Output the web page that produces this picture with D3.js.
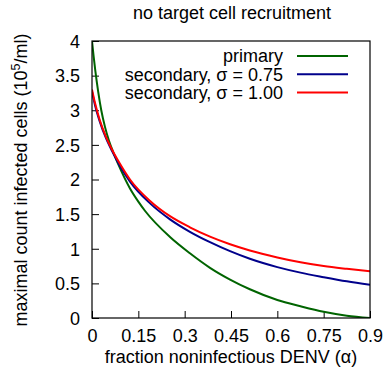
<!DOCTYPE html>
<html>
<head>
<meta charset="utf-8">
<script src="https://cdn.jsdelivr.net/npm/d3@7"></script>
<style>
  html, body { margin: 0; padding: 0; background: #fff; }
  svg { display: block; font-family: "Liberation Sans", Arial, sans-serif; }
</style>
</head>
<body>
<svg id="chart" width="386" height="373"></svg>
<script>
// fraction of noninfectious virus (alpha) at which each curve is sampled
const alphaPrimary = [0, 0.005, 0.011, 0.02, 0.03, 0.042, 0.055, 0.07, 0.095, 0.123, 0.15, 0.172, 0.2525, 0.317, 0.382, 0.447, 0.511, 0.6, 0.675, 0.75, 0.825, 0.9];
const primary      = [4.0, 3.79, 3.56, 3.27, 3.00, 2.76, 2.56, 2.38, 2.12, 1.87, 1.68, 1.545, 1.17, 0.935, 0.725, 0.555, 0.415, 0.26, 0.17, 0.09, 0.033, 0.0];

const alphaSecondary = [0, 0.01, 0.025, 0.045, 0.065, 0.09, 0.123, 0.188, 0.2525, 0.317, 0.382, 0.447, 0.511, 0.6, 0.675, 0.75, 0.825, 0.9];
const secondary075   = [3.27, 3.07, 2.84, 2.60, 2.41, 2.20, 1.97, 1.655, 1.425, 1.245, 1.095, 0.965, 0.855, 0.735, 0.655, 0.59, 0.53, 0.48];
const secondary100   = [3.30, 3.10, 2.86, 2.62, 2.43, 2.23, 2.00, 1.69, 1.47, 1.31, 1.175, 1.065, 0.975, 0.875, 0.805, 0.75, 0.71, 0.675];

const xTicks = [0, 0.15, 0.3, 0.45, 0.6, 0.75, 0.9];
const yTicks = [0, 0.5, 1, 1.5, 2, 2.5, 3, 3.5, 4];

const seriesNames = ["primary", "secondary, \u03c3 = 0.75", "secondary, \u03c3 = 1.00"];
const seriesColors = ["#006400", "#00008b", "#ff0000"];

const series = [
  { name: seriesNames[0], color: seriesColors[0], xs: alphaPrimary, ys: primary },
  { name: seriesNames[1], color: seriesColors[1], xs: alphaSecondary, ys: secondary075 },
  { name: seriesNames[2], color: seriesColors[2], xs: alphaSecondary, ys: secondary100 }
];

const FONT = 18;
const margin = { left: 92, right: 16, top: 41, bottom: 55 };
const W = 386, H = 373;
const svg = d3.select("#chart");

const x = d3.scaleLinear().domain([0, 0.9]).range([margin.left, W - margin.right]);
const y = d3.scaleLinear().domain([0, 4]).range([H - margin.bottom, margin.top]);

svg.append("defs").append("clipPath").attr("id", "plotClip")
  .append("rect")
  .attr("x", x(0)).attr("y", y(4))
  .attr("width", x(0.9) - x(0)).attr("height", y(0) - y(4));

// axes with inward ticks
const xAxis = d3.axisBottom(x).tickValues(xTicks).tickSizeInner(-7).tickSizeOuter(0)
  .tickFormat(d => d === 0 ? "0" : String(d));
const yAxis = d3.axisLeft(y).tickValues(yTicks).tickSizeInner(-7).tickSizeOuter(0)
  .tickFormat(d => String(d));

const gx = svg.append("g").attr("transform", `translate(0,${y(0)})`).call(xAxis);
const gy = svg.append("g").attr("transform", `translate(${x(0)},0)`).call(yAxis);
[gx, gy].forEach(g => {
  g.select(".domain").remove();
  g.selectAll(".tick line").attr("stroke", "#000").attr("stroke-width", 1);
  g.selectAll(".tick text").attr("font-size", FONT).attr("fill", "#000")
    .attr("font-family", "Liberation Sans, Arial, sans-serif");
});
gx.selectAll(".tick text").attr("dy", null).attr("y", 24);
gy.selectAll(".tick text").attr("x", -12).attr("dy", "0.35em");

// series lines
const line = d3.line().curve(d3.curveMonotoneX);
const plot = svg.append("g").attr("clip-path", "url(#plotClip)");
series.forEach(s => {
  plot.append("path")
    .attr("d", line(s.xs.map((a, i) => [x(a), y(s.ys[i])])))
    .attr("fill", "none")
    .attr("stroke", s.color)
    .attr("stroke-width", 2);
});

// plot border
svg.append("rect")
  .attr("x", x(0)).attr("y", y(4))
  .attr("width", x(0.9) - x(0)).attr("height", y(0) - y(4))
  .attr("fill", "none").attr("stroke", "#000").attr("stroke-width", 1.2);

// legend
const legend = svg.append("g");
series.forEach((s, i) => {
  const ly = 56 + i * 18.3;
  legend.append("text")
    .attr("x", 283).attr("y", ly).attr("dy", "0.35em")
    .attr("text-anchor", "end").attr("font-size", FONT).attr("fill", "#000")
    .text(s.name);
  legend.append("line")
    .attr("x1", 297).attr("x2", 348).attr("y1", ly).attr("y2", ly)
    .attr("stroke", s.color).attr("stroke-width", 2);
});

// title
svg.append("text")
  .attr("x", 232).attr("y", 19).attr("text-anchor", "middle")
  .attr("font-size", FONT).attr("fill", "#000")
  .text("no target cell recruitment");

// x-axis title
svg.append("text")
  .attr("x", 231).attr("y", 363).attr("text-anchor", "middle")
  .attr("font-size", FONT).attr("fill", "#000")
  .text("fraction noninfectious DENV (\u03b1)");

// y-axis title with superscript exponent
const yt = svg.append("text")
  .attr("transform", `translate(27,180) rotate(-90)`)
  .attr("text-anchor", "middle")
  .attr("font-size", FONT).attr("fill", "#000");
yt.append("tspan").text("maximal count infected cells (10");
yt.append("tspan").attr("dy", -7).attr("font-size", 12.5).text("5");
yt.append("tspan").attr("dy", 7).text("/ml)");
</script>
</body>
</html>
